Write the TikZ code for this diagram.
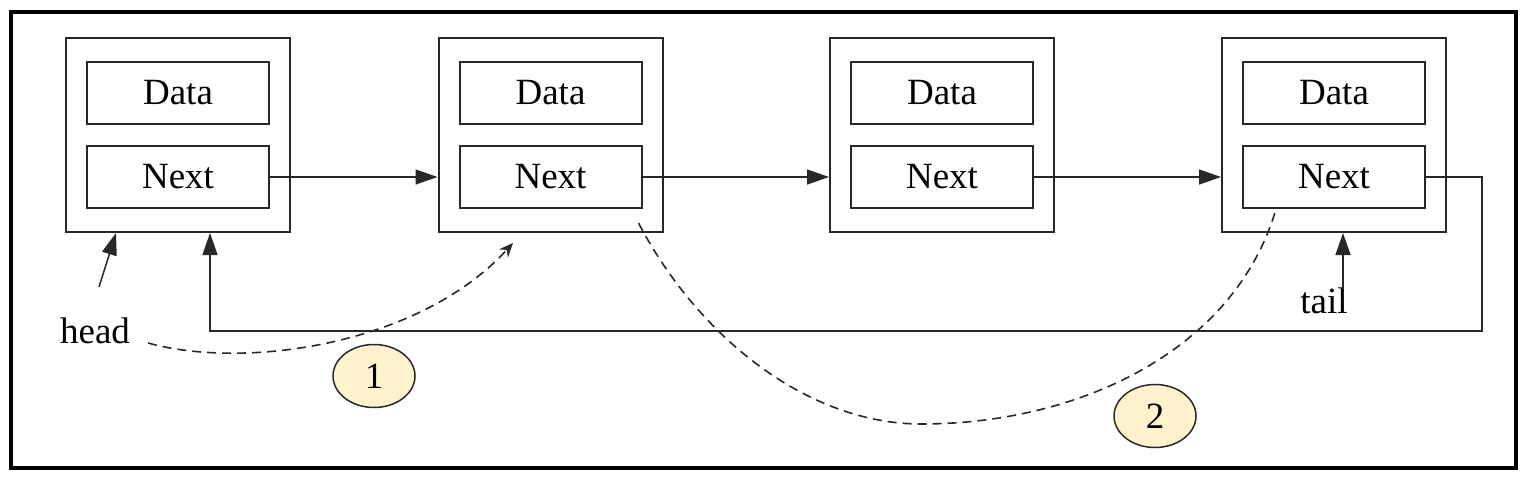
\documentclass[tikz,border=0pt]{standalone}
\usepackage{fontspec}
\setmainfont{Liberation Serif}
\usetikzlibrary{arrows.meta,shapes.geometric,calc}
\definecolor{circfill}{RGB}{255,242,204}
\definecolor{ln}{RGB}{40,40,40}
\begin{document}
\begin{tikzpicture}[x=1pt,y=-1pt,
  outerbox/.style={draw=ln,line width=2pt,minimum width=224pt,minimum height=194pt,inner sep=0pt},
  field/.style={draw=ln,line width=2pt,minimum width=182pt,minimum height=62pt,inner sep=0pt,font=\fontsize{37}{40}\selectfont},
  lbl/.style={font=\fontsize{37}{40}\selectfont,inner sep=0pt},
  link/.style={draw=ln,line width=1.5pt,-{Triangle[length=22pt,width=15pt]}},
  dashlink/.style={draw=ln,line width=1.6pt,dash pattern=on 9pt off 6pt},
  badge/.style={ellipse,draw=ln,line width=1.5pt,fill=circfill,minimum width=82pt,minimum height=63pt,inner sep=0pt,font=\fontsize{37}{40}\selectfont}]
\useasboundingbox (0,0) rectangle (1529,479);
\draw[line width=3.5pt] (11,12) rectangle (1516,468);
\foreach \i/\x in {1/178,2/550.5,3/942,4/1334} {
  \node[outerbox] (n\i) at (\x,135) {};
  \node[field] (d\i) at (\x,92.5) {Data};
  \node[field] (x\i) at (\x,177) {Next};
}
\draw[link] (x1.east) -- (x1.east -| n2.west);
\draw[link] (x2.east) -- (x2.east -| n3.west);
\draw[link] (x3.east) -- (x3.east -| n4.west);
\coordinate (loopR) at (1482,331);
\coordinate (loopL) at (210,331);
\draw[link] (x4.east) -| (loopR) -- (loopL) -- (loopL |- n1.south);
\node[lbl,anchor=base] (head) at (95,343) {head};
\node[lbl,anchor=base] (tail) at (1324,313) {tail};
\coordinate (hs) at (99,287);
\draw[link] (hs) -- ($(n1.south west)+(51,0)$);
\coordinate (ts) at (1343,289);
\draw[link] (ts) -- (ts |- n4.south);
\coordinate (c1s) at (148,343);
\coordinate (c1e) at (513,243);
\draw[dashlink,-{Stealth[length=14pt,width=12pt]}] (c1s) .. controls (245,370) and (420,345) .. (c1e);
\coordinate (c2s) at ($(n2.south east)+(-25,-10)$);
\coordinate (c2m) at (921,424);
\coordinate (c2e) at ($(x4.south west)+(34,0)$);
\draw[dashlink] (c2s) .. controls (700,340) and (810,424) .. (c2m) .. controls (1080,424) and (1235,350) .. (c2e);
\node[badge] (b1) at (374,376) {1};
\node[badge] (b2) at (1155,416) {2};
\end{tikzpicture}
\end{document}
